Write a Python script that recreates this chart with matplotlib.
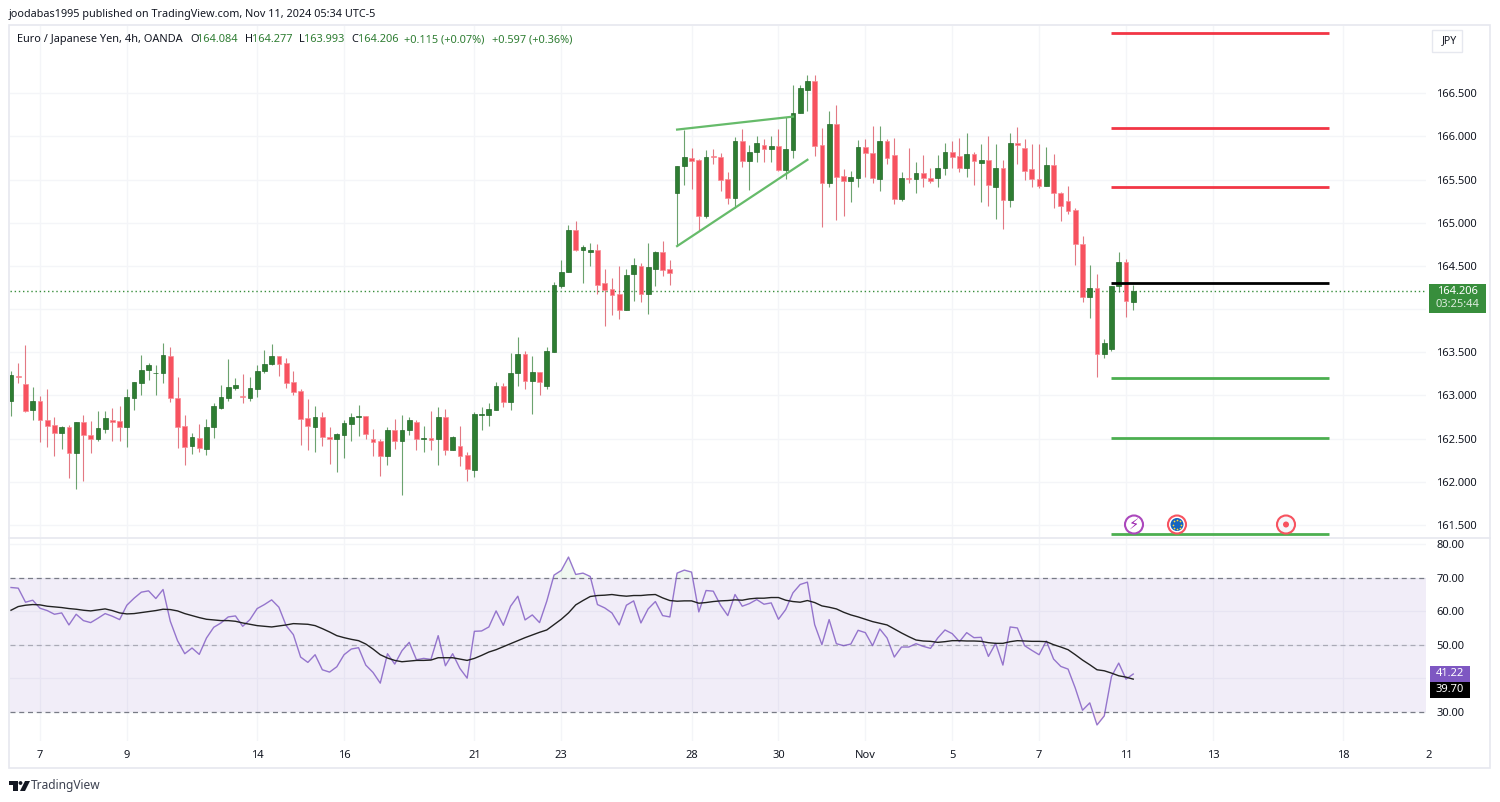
import numpy as np
import matplotlib
matplotlib.use('Agg')
import matplotlib.pyplot as plt
from matplotlib.patches import Rectangle, Polygon, Circle

plt.rcParams['font.family'] = ['Noto Sans', 'DejaVu Sans']

opens = [162.94,163.23,163.13,162.83,162.94,162.72,162.66,162.57,162.64,162.33,
         162.69,162.54,162.49,162.61,162.72,162.70,162.63,162.97,163.14,163.29,
         163.255,163.26,163.46,162.97,162.65,162.41,162.51,162.38,162.63,162.86,
         162.97,163.09,162.99,162.97,163.08,163.28,163.36,163.46,163.38,163.16,
         163.05,162.74,162.64,162.75,162.52,162.49,162.54,162.67,162.75,162.76,
         162.50,162.47,162.30,162.60,162.47,162.60,162.69,162.49,162.51,162.49,
         162.75,162.37,162.42,162.31,162.14,162.77,162.77,162.83,163.11,162.92,
         163.26,163.48,163.17,163.27,163.11,163.50,164.27,164.43,164.92,164.68,
         164.66,164.69,164.30,164.23,164.17,163.99,164.41,164.50,164.17,164.47,
         164.66,164.46,165.34,165.66,165.75,165.73,165.08,165.77,165.76,165.51,
         165.29,165.95,165.72,165.82,165.90,165.85,165.89,165.61,165.84,166.27,
         166.54,166.64,165.90,165.46,166.14,165.54,165.49,165.52,165.88,165.81,
         165.51,165.95,165.78,165.27,165.52,165.51,165.58,165.52,165.52,165.64,
         165.82,165.77,165.63,165.80,165.69,165.73,165.42,165.64,165.26,165.93,
         165.87,165.62,165.51,165.43,165.67,165.34,165.25,165.15,164.76,164.14,
         164.25,163.48,163.54,164.27,164.55,164.084]
highs = [163.28,163.38,163.58,163.10,162.99,163.07,162.75,162.65,162.66,162.69,
         162.77,162.70,162.82,162.82,162.86,162.88,163.08,163.16,163.47,163.38,
         163.35,163.61,163.56,163.21,162.77,162.57,162.67,162.73,162.91,163.12,
         163.42,163.20,163.25,163.21,163.35,163.53,163.60,163.46,163.43,163.28,
         163.08,162.96,162.88,162.81,162.63,162.57,162.71,162.80,162.89,162.76,
         162.61,162.49,162.64,162.73,162.77,162.75,162.72,162.65,162.82,162.87,
         162.84,162.53,162.65,162.35,162.81,162.87,162.91,163.16,163.14,163.49,
         163.68,163.51,163.46,163.27,163.56,164.32,164.57,164.97,165.02,164.74,
         164.77,164.75,164.47,164.36,164.50,164.47,164.59,164.54,164.77,164.67,
         164.79,164.57,165.66,166.08,165.87,165.74,165.84,165.85,165.81,165.59,
         165.99,166.09,165.90,166.01,165.97,166.01,166.09,166.22,166.60,166.60,
         166.71,166.71,166.10,166.29,166.37,165.62,165.60,165.96,165.97,166.12,
         166.12,165.97,165.98,165.59,165.87,165.71,165.78,165.64,165.78,165.93,
         165.95,165.98,166.04,165.82,165.91,166.00,165.91,165.73,166.04,166.11,
         165.97,165.91,165.91,165.88,165.80,165.36,165.43,165.17,164.85,164.51,
         164.41,163.65,164.27,164.66,164.58,164.277]
lows = [162.76,163.14,162.81,162.71,162.46,162.40,162.30,162.38,162.04,161.92,
        162.01,162.33,162.47,162.57,162.47,162.47,162.40,162.83,163.00,163.18,
        163.01,163.14,162.92,162.39,162.19,162.32,162.34,162.31,162.51,162.84,
        162.93,163.06,162.91,162.93,162.98,163.26,163.35,163.23,163.09,163.01,
        162.43,162.37,162.34,162.41,162.20,162.11,162.27,162.47,162.53,162.50,
        162.30,162.07,162.19,162.38,161.85,162.54,162.37,162.35,162.37,162.19,
        162.31,162.37,162.18,162.01,162.06,162.60,162.65,162.83,162.87,162.83,
        163.11,163.08,162.78,163.01,163.08,163.50,164.25,164.43,164.67,164.30,
        164.50,164.17,163.80,163.93,163.89,163.99,164.09,164.08,163.94,164.27,
        164.38,164.28,164.74,165.44,165.39,164.90,165.05,165.68,165.37,165.22,
        165.17,165.65,165.38,165.71,165.71,165.71,165.60,165.51,165.75,166.27,
        166.29,165.77,164.95,165.41,165.03,165.08,165.24,165.42,165.53,165.46,
        165.37,165.68,165.22,165.25,165.46,165.35,165.41,165.46,165.41,165.55,
        165.64,165.59,165.53,165.44,165.24,165.19,165.04,164.93,165.18,165.68,
        165.50,165.41,165.40,165.43,165.17,165.02,165.10,164.51,164.08,163.90,
        163.21,163.43,163.51,164.20,163.91,163.993]
closes = [163.24,163.21,162.82,162.94,162.71,162.65,162.57,162.63,162.33,162.69,
          162.54,162.49,162.62,162.74,162.69,162.63,162.98,163.16,163.30,163.35,
          163.265,163.47,162.97,162.64,162.40,162.52,162.39,162.64,162.88,162.98,
          163.10,163.12,162.98,163.09,163.28,163.37,163.46,163.36,163.14,163.04,
          162.73,162.65,162.75,162.52,162.49,162.55,162.68,162.75,162.76,162.55,
          162.46,162.30,162.60,162.47,162.60,162.72,162.49,162.51,162.48,162.75,
          162.37,162.52,162.30,162.15,162.78,162.78,162.84,163.11,162.92,163.26,
          163.48,163.17,163.27,163.16,163.52,164.28,164.43,164.92,164.68,164.72,
          164.69,164.28,164.22,164.16,163.99,164.40,164.51,164.17,164.49,164.66,
          164.45,164.42,165.66,165.76,165.72,165.08,165.76,165.76,165.50,165.29,
          165.95,165.72,165.82,165.93,165.85,165.89,165.61,165.85,166.27,166.56,
          166.64,165.89,165.46,166.14,165.53,165.48,165.53,165.88,165.81,165.52,
          165.95,165.75,165.27,165.52,165.51,165.58,165.52,165.48,165.64,165.82,
          165.76,165.63,165.80,165.72,165.73,165.44,165.64,165.26,165.92,165.90,
          165.60,165.51,165.43,165.67,165.34,165.19,165.14,164.75,164.14,164.25,
          163.48,163.61,164.27,164.55,164.09,164.206]

rsi = [67.1,66.9,62.7,63.3,60.9,60.2,59.1,59.5,55.9,59.1,
       57.2,56.6,57.9,59.3,58.5,57.5,61.8,63.9,65.7,66.1,
       63.8,66.5,57.0,51.2,47.3,49.0,47.1,52.0,55.2,56.5,
       58.3,58.6,55.5,57.5,60.8,62.0,63.4,61.2,55.7,53.0,
       46.3,44.7,47.0,42.5,41.8,43.4,47.0,48.7,49.1,43.9,
       41.7,38.5,47.3,44.2,48.2,50.7,45.5,45.9,45.6,52.7,
       43.7,47.3,42.9,40.0,54.0,54.1,55.3,60.1,55.8,61.5,
       64.5,57.4,58.9,56.6,63.0,70.8,72.2,76.2,71.0,71.4,
       70.4,62.0,61.0,59.5,55.9,61.8,63.1,56.5,60.7,62.9,
       58.7,58.3,71.4,72.3,71.7,59.8,66.2,66.0,61.8,58.7,
       65.0,61.5,62.3,63.5,62.1,62.5,57.6,60.5,65.5,68.0,
       68.7,56.0,50.0,57.5,50.3,49.7,50.2,54.3,53.6,49.7,
       54.7,52.0,46.3,49.3,49.3,50.3,49.5,48.9,52.0,54.4,
       53.3,50.9,53.6,52.1,52.2,46.5,50.4,43.9,55.3,55.0,
       49.7,48.3,47.0,51.1,45.7,43.5,42.7,37.0,30.4,32.6,
       26.0,28.7,40.5,44.5,39.7,41.22]
rsi_ma = [60.3,61.4,61.8,62.0,61.9,61.5,61.3,61.1,60.8,60.6,
          60.3,60.1,60.4,60.7,60.2,59.5,59.2,59.3,59.6,59.9,
          60.2,60.6,60.5,60.1,59.3,58.7,58.1,57.6,57.4,57.2,
          57.2,57.0,56.5,56.1,55.7,55.5,55.3,55.6,55.9,56.3,
          56.2,56.1,55.7,54.8,53.8,52.7,52.1,51.6,51.2,50.2,
          48.7,47.0,46.0,45.3,44.9,45.1,45.3,45.3,45.4,46.1,
          46.1,46.1,45.7,45.3,45.9,46.8,47.8,48.5,49.4,50.3,
          51.2,52.1,52.9,53.7,54.4,56.0,57.6,59.5,61.9,63.2,
          64.4,64.7,64.8,65.0,64.7,64.5,64.7,64.7,64.9,65.0,
          64.0,63.2,63.0,63.1,63.1,62.4,62.6,62.9,63.1,63.2,
          63.4,63.3,63.7,63.9,63.9,64.1,64.1,63.3,62.9,62.7,
          63.2,62.6,61.6,61.2,60.7,59.7,58.9,58.3,57.6,56.9,
          56.4,55.9,54.7,53.5,52.4,51.4,51.1,51.0,50.7,50.9,
          51.2,51.2,51.1,51.1,51.0,50.6,50.4,50.4,50.9,51.2,
          51.1,51.0,51.0,50.9,50.0,49.3,48.5,47.0,45.4,44.0,
          42.5,42.2,41.5,40.7,40.3,39.70]

# bar number of each date tick on the time axis
tick_bars = [4, 16, 34, 46, 64, 76, 94, 106, 118, 130, 142, 154, 166, 184]
tick_labels = ['7', '9', '14', '16', '21', '23', '28', '30', 'Nov', '5', '7', '11', '13', '18']

price_ticks = [161.5, 162.0, 162.5, 163.0, 163.5, 164.0, 164.5, 165.0, 165.5, 166.0, 166.5]
rsi_ticks = [30, 40, 50, 60, 70, 80]

# drawn levels and trend lines
red_levels = [167.20, 166.10, 165.41]
green_levels = [163.20, 162.51, 161.40]
black_level = 164.30
level_start, level_end = 152, 182
wedge_top = ([92, 108], [166.08, 166.23])
wedge_bottom = ([92, 110], [164.73, 165.73])
last_price = 164.206

GREEN = '#2e7d32'
RED = '#f7525f'
GRID = '#f4f5f8'
TEXT = '#131722'
W, H = 1500, 802

fig = plt.figure(figsize=(W/100, H/100), dpi=100, facecolor='white')

def pane(left, top, right, bottom):
    return fig.add_axes([left/W, 1-bottom/H, (right-left)/W, (bottom-top)/H])

ax = pane(10, 26, 1426, 537)
ax2 = pane(10, 538, 1426, 741)

bars = np.arange(len(closes))
o, h, l, c = map(np.array, (opens, highs, lows, closes))
up = c >= o

for a in (ax, ax2):
    a.set_xlim(-0.14, 195.44)
    a.set_xticks(tick_bars)
    a.grid(True, color=GRID, lw=1)
    a.set_axisbelow(True)
    a.yaxis.tick_right()
    a.tick_params(axis='y', length=0, pad=7.5, labelsize=8, labelcolor=TEXT)
    a.tick_params(axis='x', length=0, labelbottom=False)
    for s in a.spines.values():
        s.set_visible(False)

# candles
ax.vlines(bars[up], l[up], h[up], color=GREEN, lw=0.8, alpha=0.7, zorder=2)
ax.vlines(bars[~up], l[~up], h[~up], color='#d8404f', lw=0.8, alpha=0.7, zorder=2)
ax.bar(bars[up], (c-o)[up], bottom=o[up], width=0.66, color=GREEN, edgecolor='#24692a', lw=0.5, zorder=3)
ax.bar(bars[~up], (o-c)[~up], bottom=c[~up], width=0.66, color=RED, edgecolor='#f98b95', lw=0.5, zorder=3)

ax.axhline(last_price, color='#388e3c', lw=1, ls=(0, (1, 2)), zorder=1)

for y in red_levels:
    ax.plot([level_start, level_end], [y, y], color='#f23645', lw=2, solid_capstyle='butt', zorder=4)
for y in green_levels:
    ax.plot([level_start, level_end], [y, y], color='#4caf50', lw=2, solid_capstyle='butt', zorder=4)
ax.plot([level_start, level_end], [black_level, black_level], color='black', lw=2, solid_capstyle='butt', zorder=4)
ax.plot(*wedge_top, color='#66bb6a', lw=1.6, zorder=4)
ax.plot(*wedge_bottom, color='#66bb6a', lw=1.6, zorder=4)

ax.set_ylim(161.36, 167.28)
ax.set_yticks(price_ticks)
# the 164.000 label sits behind the last price box
ax.set_yticklabels(['' if p == 164.0 else '%.3f' % p for p in price_ticks])

# RSI pane
ax2.set_ylim(21.2, 81.9)
ax2.set_yticks(rsi_ticks)
ax2.set_yticklabels(['' if v == 40 else '%.2f' % v for v in rsi_ticks])
ax2.axhspan(30, 70, color='#7e57c2', alpha=0.1, lw=0, zorder=1)
for v, al in ((70, 1), (50, 0.55), (30, 1)):
    ax2.axhline(v, color='#787b86', lw=0.9, ls=(0, (4, 3)), alpha=al, zorder=2)
r = np.array(rsi)
ax2.fill_between(bars, 70, r, where=r > 70, interpolate=True, color='#4caf50', alpha=0.08, lw=0)
ax2.fill_between(bars, 30, r, where=r < 30, interpolate=True, color='#f23645', alpha=0.08, lw=0)
ax2.plot(bars, rsi, color='#7e57c2', lw=1, alpha=0.8, zorder=3)
ax2.plot(bars, rsi_ma, color='#222222', lw=1, zorder=4)

# overlay in pixel coordinates for frame, labels and icons
ov = fig.add_axes([0, 0, 1, 1], facecolor='none')
ov.set_xlim(0, W)
ov.set_ylim(H, 0)
ov.axis('off')

ov.add_patch(Rectangle((9, 25), 1481, 743, fc='none', ec='#e6e8ef', lw=1.2))
ov.plot([9, 1490], [537.5, 537.5], color='#e6e8ef', lw=1.2)

ov.text(9, 14, 'joodabas1995 published on TradingView.com, Nov 11, 2024 05:34 UTC-5',
        fontsize=7.8, color=TEXT, va='center')
ov.text(17, 39.5, 'Euro / Japanese Yen, 4h, OANDA', fontsize=7.9, color=TEXT, va='center')
for x, lab, val in ((190, 'O', '164.084'), (245, 'H', '164.277'), (299, 'L', '163.993'), (351, 'C', '164.206')):
    ov.text(x, 39.5, lab, fontsize=7.9, color=TEXT, va='center')
    ov.text(x+(5 if lab == 'L' else 7), 39.5, val, fontsize=7.9, color=GREEN, va='center')
ov.text(404, 39.5, '+0.115 (+0.07%)', fontsize=7.9, color=GREEN, va='center')
ov.text(492, 39.5, '+0.597 (+0.36%)', fontsize=7.9, color=GREEN, va='center')

ov.add_patch(Rectangle((1432, 30), 30, 22, fc='white', ec='#e6e8ef', lw=1))
ov.text(1449, 41, 'JPY', fontsize=7.6, color=TEXT, ha='center', va='center')

# price labels on the scale
ov.add_patch(Rectangle((1429, 283.5), 57, 29, fc='#388e3c', ec='none', zorder=5))
ov.text(1457, 291.5, '164.206', fontsize=8, color='white', ha='center', va='center', zorder=6)
ov.text(1457, 304.5, '03:25:44', fontsize=8, color='#dcebdc', ha='center', va='center', zorder=6)
ov.add_patch(Rectangle((1430, 666), 40, 16, fc='#7e57c2', ec='none', zorder=5))
ov.text(1450, 674, '41.22', fontsize=8, color='white', ha='center', va='center', zorder=6)
ov.add_patch(Rectangle((1430, 682), 40, 16, fc='black', ec='none', zorder=5))
ov.text(1450, 690, '39.70', fontsize=8, color='white', ha='center', va='center', zorder=6)

# date labels
for b, lab in zip(tick_bars, tick_labels):
    ov.text(11+7.24*b, 756, lab, fontsize=8, color=TEXT, ha='center', va='center',
            fontweight='bold' if lab == 'Nov' else 'normal')
ov.text(1425, 756, '2', fontsize=8, color=TEXT, ha='left', va='center')

# event icons
ov.add_patch(Circle((1134, 524.5), 9, fc='white', ec='#ab47bc', lw=1.5, zorder=5))
ov.text(1134, 524.5, '\u26a1', fontsize=10.5, color='#9c27b0', ha='center', va='center', zorder=6,
        family=['DejaVu Sans'])
ov.add_patch(Circle((1177, 524.5), 9, fc='white', ec='#f7525f', lw=1.5, zorder=5))
ov.add_patch(Circle((1177, 524.5), 6.5, fc='#1565c0', ec='none', zorder=6))
ang = np.arange(0, 2*np.pi, np.pi/4)
ov.scatter(1177+4.4*np.cos(ang), 524.5+4.4*np.sin(ang), s=1.5, color='#fdd835', lw=0, zorder=7)
ov.add_patch(Circle((1286, 524.5), 9, fc='#f5f6fa', ec='#f7525f', lw=1.5, zorder=5))
ov.add_patch(Circle((1286, 524.5), 3, fc='#f7525f', ec='none', zorder=6))

# footer logo
ov.add_patch(Polygon([(9, 781), (18, 781), (18, 791), (13, 791), (13, 785), (9, 785)], fc=TEXT, ec='none'))
ov.add_patch(Circle((20.5, 783), 1.9, fc=TEXT, ec='none'))
ov.add_patch(Polygon([(25, 781), (30, 781), (25, 791), (20, 791)], fc=TEXT, ec='none'))
ov.text(31, 786, 'TradingView', fontsize=8.6, color='#3c4150', va='center')

fig.savefig('out.png', dpi=100)
